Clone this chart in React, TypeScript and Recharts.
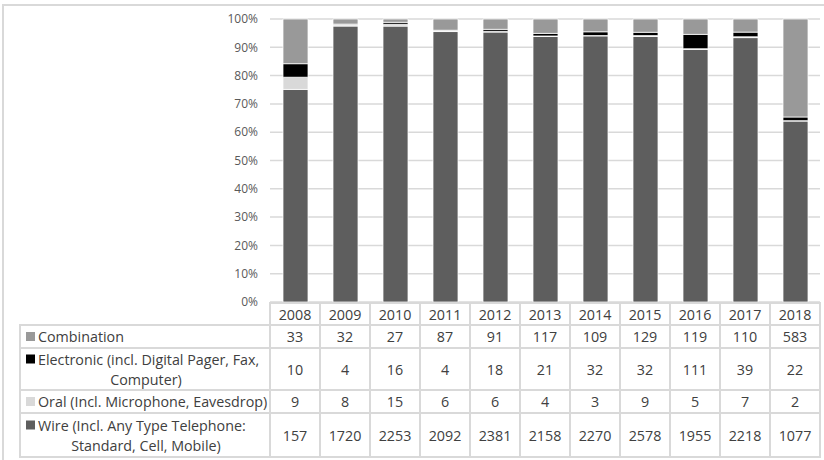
import { BarChart, Bar, XAxis, YAxis, CartesianGrid } from "recharts";

const years = ["2008", "2009", "2010", "2011", "2012", "2013", "2014", "2015", "2016", "2017", "2018"];
const wire = [157, 1720, 2253, 2092, 2381, 2158, 2270, 2578, 1955, 2218, 1077];
const oral = [9, 8, 15, 6, 6, 4, 3, 9, 5, 7, 2];
const electronic = [10, 4, 16, 4, 18, 21, 32, 32, 111, 39, 22];
const combination = [33, 32, 27, 87, 91, 117, 109, 129, 119, 110, 583];
const yTicks = [0, 0.1, 0.2, 0.3, 0.4, 0.5, 0.6, 0.7, 0.8, 0.9, 1];

const data = years.map((year, i) => ({
  year,
  wire: wire[i],
  oral: oral[i],
  electronic: electronic[i],
  combination: combination[i],
}));

// table rows, top to bottom (same order as the Excel data table)
const rows = [
  { key: "combination", label: ["Combination"], values: combination, color: "#999999", height: 23 },
  { key: "electronic", label: ["Electronic (incl. Digital Pager, Fax,", "Computer)"], values: electronic, color: "#000000", height: 42 },
  { key: "oral", label: ["Oral (Incl. Microphone, Eavesdrop)"], values: oral, color: "#d9d9d9", height: 23 },
  { key: "wire", label: ["Wire (Incl. Any Type Telephone:", "Standard, Cell, Mobile)"], values: wire, color: "#5e5e5e", height: 44 },
];

const FONT = "'Open Sans', sans-serif";
const BORDER = "#d9d9d9";
const INK = "#404040";
const FS = 14.3;
const HEADER_H = 22;
const LEGEND_LEFT = 20;

function TableColumn(props: any) {
  const { x, y, payload, index } = props;
  const cw = (props.width ?? 550) / years.length;
  const left = x - cw / 2;
  const top = y + 1;
  let rowTop = top + HEADER_H;

  const cells = rows.map((r) => {
    const t = rowTop;
    rowTop += r.height;
    const mid = t + r.height / 2;
    const legend =
      index === 0 ? (
        <g>
          <rect x={LEGEND_LEFT} y={t} width={left - LEGEND_LEFT} height={r.height} fill="#fff" stroke={BORDER} strokeWidth={2} />
          <rect x={26} y={(r.label.length > 1 ? mid - 10 : mid) - 4.5} width={9} height={9} fill={r.color} />
          {r.label.length === 1 ? (
            <text x={38} y={mid} dominantBaseline="central" fontSize={FS} fill={INK} fontFamily={FONT}>
              {r.label[0]}
            </text>
          ) : (
            <g>
              <text x={38} y={mid - 10} dominantBaseline="central" fontSize={FS} fill={INK} fontFamily={FONT}>
                {r.label[0]}
              </text>
              <text x={146} y={mid + 10} textAnchor="middle" dominantBaseline="central" fontSize={FS} fill={INK} fontFamily={FONT}>
                {r.label[1]}
              </text>
            </g>
          )}
        </g>
      ) : null;
    return (
      <g key={r.key}>
        {legend}
        <rect x={left} y={t} width={cw} height={r.height} fill="#fff" stroke={BORDER} strokeWidth={2} />
        <text x={x} y={mid} textAnchor="middle" dominantBaseline="central" fontSize={FS} fill={INK} fontFamily={FONT}>
          {r.values[index]}
        </text>
      </g>
    );
  });

  return (
    <g>
      <rect x={left} y={top} width={cw} height={HEADER_H} fill="#fff" stroke={BORDER} strokeWidth={2} />
      <text x={x} y={top + HEADER_H / 2} textAnchor="middle" dominantBaseline="central" fontSize={FS} fill={INK} fontFamily={FONT}>
        {payload.value}
      </text>
      {cells}
    </g>
  );
}

export default function App() {
  return (
    <div style={{ position: "fixed", left: 0, top: 0, width: 824, height: 460, overflow: "hidden", background: "#fff" }}>
      <div
        style={{
          position: "absolute",
          left: 2,
          top: 4,
          width: 840,
          height: 480,
          border: `2px solid ${BORDER}`,
        }}
      />
      <div style={{ position: "absolute", left: 0, top: 0 }}>
        <BarChart
          width={824}
          height={460}
          data={data}
          stackOffset="expand"
          margin={{ top: 19, right: 4, bottom: 0, left: 0 }}
        >
          <CartesianGrid vertical={false} stroke={BORDER} strokeWidth={1.5} />
          <YAxis
            width={270}
            domain={[0, 1]}
            ticks={yTicks}
            tickFormatter={(v: number) => `${Math.round(v * 100)}%`}
            axisLine={false}
            tickLine={false}
            tickSize={0}
            tickMargin={12}
            tick={{ fill: "#595959", fontSize: 12, fontFamily: FONT }}
          />
          <XAxis
            dataKey="year"
            height={158}
            axisLine={false}
            tickLine={false}
            tickSize={0}
            tickMargin={0}
            interval={0}
            tick={(p: any) => <TableColumn {...p} />}
          />
          <Bar dataKey="wire" stackId="a" fill="#5e5e5e" stroke="#fff" strokeWidth={0.75} barSize={25} isAnimationActive={false} />
          <Bar dataKey="oral" stackId="a" fill="#d9d9d9" stroke="#fff" strokeWidth={0.75} barSize={25} isAnimationActive={false} />
          <Bar dataKey="electronic" stackId="a" fill="#000000" stroke="#fff" strokeWidth={0.75} barSize={25} isAnimationActive={false} />
          <Bar dataKey="combination" stackId="a" fill="#999999" stroke="#fff" strokeWidth={0.75} barSize={25} isAnimationActive={false} />
        </BarChart>
      </div>
    </div>
  );
}
